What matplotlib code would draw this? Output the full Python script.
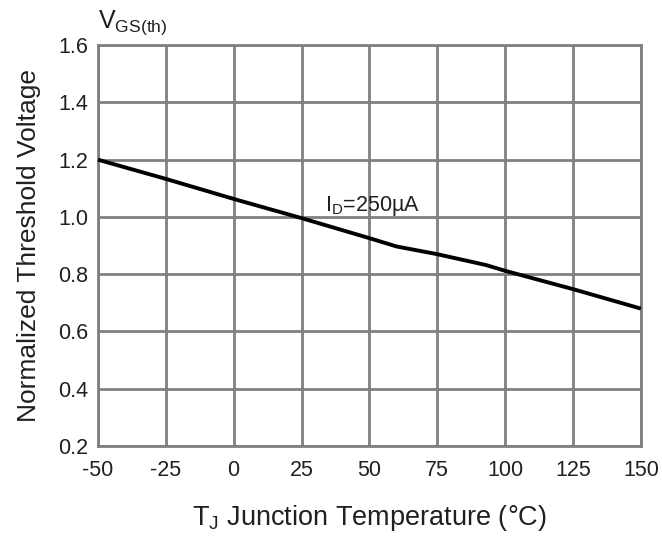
import matplotlib
matplotlib.use("Agg")
import matplotlib.pyplot as plt

plt.rcParams['font.family'] = ['Liberation Sans', 'DejaVu Sans']
plt.rcParams['mathtext.fontset'] = 'custom'
plt.rcParams['mathtext.rm'] = 'Liberation Sans'

temps = [-50, -25, 0, 25, 50, 60, 75, 93, 100, 125, 150]
vth_norm = [1.20, 1.133, 1.063, 0.996, 0.926, 0.897, 0.870, 0.832, 0.812, 0.748, 0.680]
x_ticks = [-50, -25, 0, 25, 50, 75, 100, 125, 150]
y_ticks = [0.2, 0.4, 0.6, 0.8, 1.0, 1.2, 1.4, 1.6]

fig = plt.figure(figsize=(6.62, 5.38), dpi=100)
ax = fig.add_axes([0.148, 0.171, 0.820, 0.745])

txt_c = '#231f20'
grid_c = '#808080'
ax.set_xlim(-50, 150)
ax.set_ylim(0.2, 1.6)
ax.set_xticks(x_ticks)
ax.set_yticks(y_ticks)
ax.set_xticklabels([str(t) for t in x_ticks])
ax.set_yticklabels([f"{v:.1f}" for v in y_ticks])
ax.grid(True, color=grid_c, linewidth=2.0)
ax.set_axisbelow(True)
for s in ax.spines.values():
    s.set_color(grid_c)
    s.set_linewidth(2.0)
ax.tick_params(axis='both', length=0, labelsize=15.5, colors=txt_c)
ax.tick_params(axis='x', pad=10)
ax.tick_params(axis='y', pad=7)

ax.plot(temps, vth_norm, color='black', linewidth=2.8, solid_capstyle='butt', clip_on=False, zorder=3)

ax.text(33.5, 1.04, r'I$_\mathregular{D}$=250µA', fontsize=15.5, color=txt_c, va='center', ha='left')
ax.set_xlabel(r'T$_\mathregular{J}$ Junction Temperature (°C)', fontsize=19.5, color=txt_c, labelpad=16)
ax.set_ylabel('Normalized Threshold Voltage', fontsize=19, color=txt_c, labelpad=12)
fig.text(0.148, 0.958, r'V$_\mathregular{GS(th)}$', fontsize=18, color=txt_c, va='center', ha='left')

fig.savefig('out.png', dpi=100)
